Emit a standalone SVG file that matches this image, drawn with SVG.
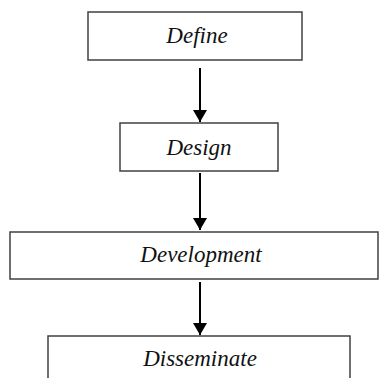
<svg xmlns="http://www.w3.org/2000/svg" width="388" height="378" viewBox="0 0 388 378">
<style>
.box{fill:#fff;stroke:#404040;stroke-width:1.5}
.lbl{font-family:"Liberation Serif","Times New Roman",serif;font-style:italic;font-size:23px;fill:#111;text-anchor:middle}
.con{stroke:#000;stroke-width:2;fill:none}
</style>
<defs>
<marker id="ah" markerWidth="6" markerHeight="7" refX="6" refY="3.5" orient="auto" markerUnits="strokeWidth">
<path d="M0,0 L6,3.5 L0,7 Z" fill="#000"/>
</marker>
</defs>
<rect width="388" height="378" fill="#fff"/>
<g id="define"><rect class="box" x="88" y="12" width="214" height="48"/><text class="lbl" x="197" y="43">Define</text></g>
<g id="design"><rect class="box" x="120" y="123" width="158" height="48"/><text class="lbl" x="199" y="155">Design</text></g>
<g id="development"><rect class="box" x="10" y="232" width="368" height="47"/><text class="lbl" x="201" y="262">Development</text></g>
<g id="disseminate"><rect class="box" x="48" y="336" width="302" height="50"/><text class="lbl" x="200" y="366">Disseminate</text></g>
<g id="connectors">
<line class="con" x1="200" y1="68" x2="200" y2="122" marker-end="url(#ah)"/>
<line class="con" x1="200" y1="173" x2="200" y2="230" marker-end="url(#ah)"/>
<line class="con" x1="200" y1="282" x2="200" y2="335" marker-end="url(#ah)"/>
</g>
</svg>
